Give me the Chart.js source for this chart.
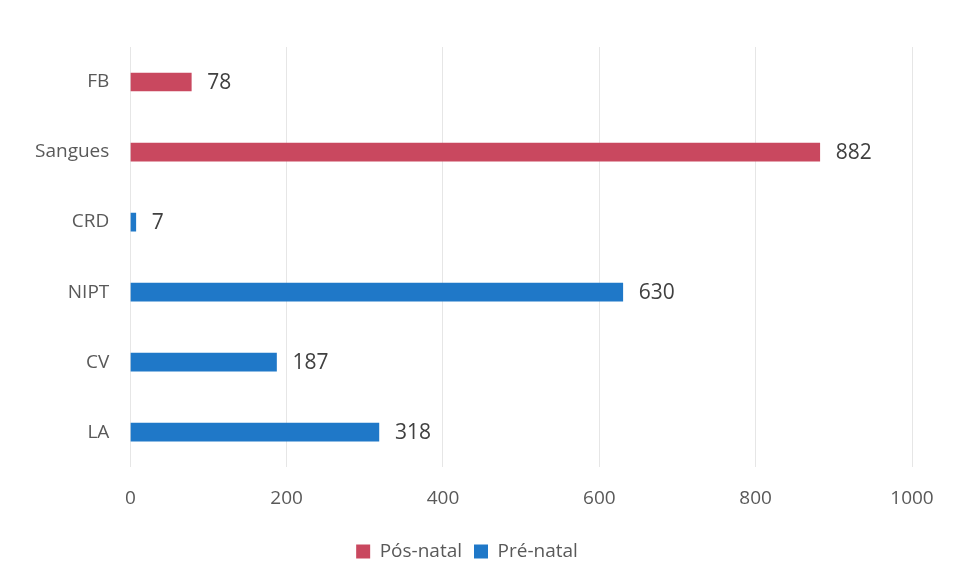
<!DOCTYPE html>
<html>
<head>
<meta charset="utf-8">
<script src="https://cdn.jsdelivr.net/npm/chart.js@4"></script>
<style>
  html, body { margin: 0; padding: 0; background: #ffffff; }
  #wrap { width: 956px; height: 584px; }
</style>
</head>
<body>
<div id="wrap"><canvas id="grafico"></canvas></div>
<script>
const categorias = ["FB", "Sangues", "CRD", "NIPT", "CV", "LA"];
const posNatal = [78, 882, null, null, null, null];
const preNatal = [null, null, 7, 630, 187, 318];
const ticksX = [0, 200, 400, 600, 800, 1000];

// rótulos com o valor ao lado de cada barra
const rotulos = {
  id: "rotulos",
  afterDatasetsDraw(chart) {
    const ctx = chart.ctx;
    ctx.save();
    ctx.font = "21px 'Open Sans', sans-serif";
    ctx.fillStyle = "#404040";
    ctx.textBaseline = "middle";
    chart.data.datasets.forEach((ds, i) => {
      chart.getDatasetMeta(i).data.forEach((bar, j) => {
        const v = ds.data[j];
        if (v === null) return;
        ctx.fillText(String(v), bar.x + 16, bar.y + 1);
      });
    });
    ctx.restore();
  }
};

const fonte = { size: 19, family: "'Open Sans', sans-serif" };

const ctx = document.getElementById("grafico").getContext("2d");
const myChart = new Chart(ctx, {
  type: "bar",
  data: {
    labels: categorias,
    datasets: [
      {
        label: "Pós-natal",
        data: posNatal,
        backgroundColor: "#c9485f",
        barThickness: 18,
        grouped: false,
      },
      {
        label: "Pré-natal",
        data: preNatal,
        backgroundColor: "#1f78c8",
        barThickness: 18,
        grouped: false,
      },
    ],
  },
  options: {
    indexAxis: "y",
    responsive: true,
    maintainAspectRatio: false,
    animation: false,
    layout: { padding: { top: 47, right: 44, left: 22, bottom: 13 } },
    scales: {
      x: {
        min: 0,
        max: 1000,
        afterBuildTicks: (axis) => { axis.ticks = ticksX.map((v) => ({ value: v })); },
        grid: { color: "#e6e6e6", drawTicks: false },
        border: { display: false },
        ticks: { color: "#595959", font: fonte, padding: 20, callback: (v) => String(v) },
      },
      y: {
        grid: { display: false },
        border: { display: false },
        ticks: { color: "#595959", font: fonte, padding: 13 },
      },
    },
    plugins: {
      legend: {
        position: "bottom",
        labels: {
          color: "#595959",
          font: fonte,
          boxWidth: 14,
          boxHeight: 14,
          padding: 12,
        },
      },
      tooltip: { enabled: false },
    },
  },
  plugins: [rotulos],
});
</script>
</body>
</html>
